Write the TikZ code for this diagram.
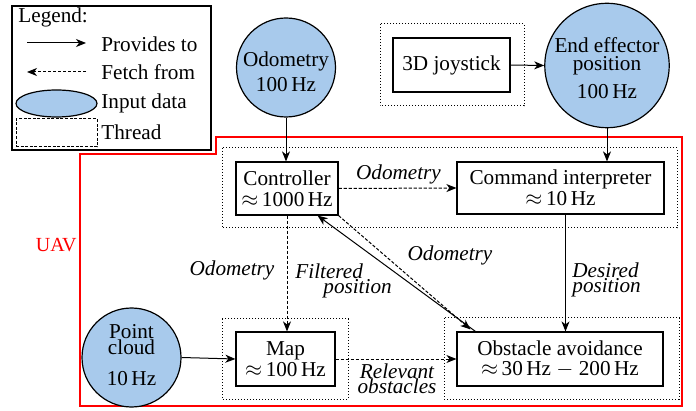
\documentclass[tikz,border=0pt]{standalone}
\usepackage{fontspec}
\setmainfont{Liberation Serif}
\usetikzlibrary{arrows.meta,calc,shapes.geometric}
\definecolor{inblue}{RGB}{168,202,236}
\begin{document}
\begin{tikzpicture}[x=0.5pt,y=-0.5pt,
  every node/.style={font=\fontsize{10.6pt}{10.3pt}\selectfont},
  box/.style={draw,line width=0.6pt,inner sep=0pt,align=center},
  circ/.style={circle,draw,line width=0.6pt,fill=inblue,inner sep=0pt,align=center},
  thread/.style={densely dotted,line width=0.5pt},
  prov/.style={-{Stealth[length=5pt,width=4pt,inset=1.5pt]},line width=0.5pt},
  fetch/.style={prov,dash pattern=on 1.6pt off 0.9pt},
  lbl/.style={font=\fontsize{10.6pt}{7.5pt}\selectfont\itshape,inner sep=0pt,align=center},
  lgtext/.style={anchor=west,inner sep=0pt}]
\useasboundingbox (0,0) rectangle (696,411);

% UAV region
\draw[red,line width=0.6pt] (80,154) -- (216,154) -- (216,137) -- (682,137) -- (682,406) -- (80,406) -- cycle;
\node[text=red,anchor=east,inner sep=0pt,font=\fontsize{10pt}{10pt}\selectfont] (uav) at (77,245) {UAV};

% Legend
\draw[line width=0.8pt] (12,6) rectangle (211,150);
\node[lgtext] (lgtitle) at (18,17) {Legend:};
\coordinate (lpa) at (27,43);
\coordinate (lpb) at (86,43);
\draw[prov] (lpa) -- (lpb);
\node[lgtext] (lgprov) at (101,44) {Provides to};
\coordinate (lfa) at (86,72);
\coordinate (lfb) at (27,72);
\draw[fetch] (lfa) -- (lfb);
\node[lgtext] (lgfetch) at (101,72) {Fetch from};
\node[ellipse,draw,line width=0.6pt,fill=inblue,minimum width=40.5pt,minimum height=13.5pt,inner sep=0pt] (lgin) at (56.5,103.5) {};
\node[lgtext] (lgintext) at (101,103) {Input data};
\node[draw,dash pattern=on 1.5pt off 0.8pt,line width=0.5pt,minimum width=40.5pt,minimum height=14pt,inner sep=0pt] (lgth) at (56.5,133) {};
\node[lgtext] (lgthtext) at (101,132) {Thread};

% Threads
\draw[thread] (380,24) rectangle (524,106);
\draw[thread] (222,148) rectangle (677,228);
\draw[thread] (222,319) rectangle (348,399);
\draw[thread] (444,318) rectangle (679,399);

% Input data circles
\node[circ,minimum size=49.5pt] (odo) at (286,67.5) {\rule{0pt}{12pt}Odometry\\[2.2pt]100\,Hz};
\node[circ,minimum size=62pt] (ee) at (607,65.5) {\rule{0pt}{10.5pt}End effector\\[-1.3pt]position\\[3.7pt]100\,Hz};
\node[circ,minimum size=49.5pt] (pc) at (131.5,357.5) {Point\\[-2.3pt]cloud\\[5.2pt]10\,Hz\rule[-3pt]{0pt}{3pt}};

% Boxes
\node[box,minimum width=58.5pt,minimum height=27pt] (js) at (451.5,65) {3D joystick};
\node[box,minimum width=51pt,minimum height=26.5pt] (ctrl) at (287,188.5) {Controller\\$\approx$\,1000\,Hz};
\node[box,minimum width=103.5pt,minimum height=26pt] (ci) at (560.5,188) {Command interpreter\\$\approx$\,10\,Hz};
\node[box,minimum width=49.5pt,minimum height=27pt] (map) at (285.5,359) {Map\\$\approx$\,100\,Hz};
\node[box,minimum width=103pt,minimum height=27pt] (oa) at (560,359) {Obstacle avoidance\\$\approx$\,30\,Hz $-$ 200\,Hz};

% Connectors
\draw[prov] (odo.south) -- (odo.south |- ctrl.north);
\draw[prov] (ee.south) -- (ee.south |- ci.north);
\draw[prov] (js.east) -- (ee.west);
\draw[prov] (pc.east) -- (map.west);
\draw[prov] ([xshift=2.5pt]ci.south) -- ([xshift=2.5pt]ci.south |- oa.north);
\draw[fetch] (ctrl.east) -- (ci.west);
\draw[fetch] (ctrl.south) -- (ctrl.south |- map.north);
\draw[fetch] (map.east) -- (oa.west);
\draw[prov] ([xshift=9.5pt]oa.north west) -- ([xshift=-10.5pt]ctrl.south east);
\draw[fetch] (ctrl.south east) -- ([xshift=7pt,yshift=1pt]oa.north west);

% Labels
\node[lbl] (l1) at (398.5,174) {Odometry};
\node[lbl] (l2) at (232,270) {Odometry};
\node[lbl,align=left,anchor=north west] (l3) at (295,263) {Filtered\\\hspace*{14pt}position};
\node[lbl] (l4) at (450,255) {Odometry};
\node[lbl,align=left,anchor=north west] (l5) at (572,262) {Desired\\position};
\node[lbl] (l6) at (397,379) {Relevant\\obstacles};
\end{tikzpicture}
\end{document}
